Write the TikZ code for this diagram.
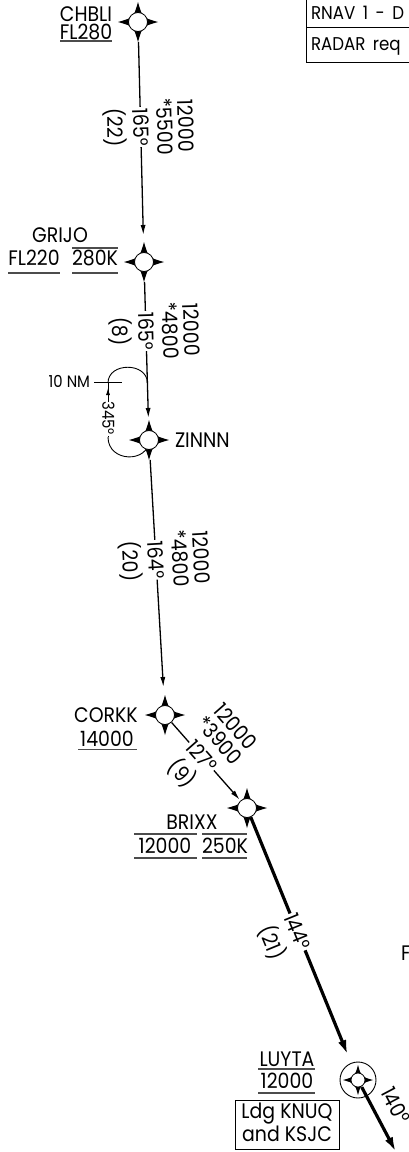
\documentclass[tikz,border=0pt]{standalone}
\usepackage{fontspec}
\setmainfont{Poppins}[FakeStretch=0.9]
\usetikzlibrary{arrows.meta}
\newcommand{\mywpstar}[3]{%
  \fill[shift={(#1.center)}] (0,-#2) .. controls ({0.22*#2},{-0.22*#2}) .. (#2,0)
    .. controls ({0.22*#2},{0.22*#2}) .. (0,#2)
    .. controls ({-0.22*#2},{0.22*#2}) .. (-#2,0)
    .. controls ({-0.22*#2},{-0.22*#2}) .. cycle;
  \draw[line width=0.8pt, fill=white] (#1.center) circle[radius=#3];}
\begin{document}
\begin{tikzpicture}[x=1pt,y=-1pt,
  every node/.style={inner sep=0pt, outer sep=0pt},
  lbl/.style={font=\fontsize{21}{24}\selectfont, text height=14.6pt, text depth=0pt},
  small/.style={font=\fontsize{16.5}{19}\selectfont, text height=11.5pt, text depth=0pt},
  tbl/.style={font=\fontsize{18.5}{21}\selectfont, text height=12.9pt, text depth=0pt},
  wpnode/.style={circle, minimum size=40pt},
  leg/.style={line width=1.3pt, -{Latex[length=10pt,width=5pt]}},
  bigleg/.style={line width=3.2pt, -{Latex[length=15pt,width=8.5pt]}},
  crs/.style={lbl, sloped, fill=white, inner xsep=1pt},
  legtxt/.style={lbl, sloped},
  altline/.style={line width=1.2pt, black!70},
  hold/.style={line width=0.9pt},
]
\useasboundingbox (0,0) rectangle (409,1152);
\clip (0,0) rectangle (409,1152);
\fill[white] (0,0) rectangle (409,1152);

% table (top right)
\draw[line width=1pt] (306,-5) rectangle (430,62);
\draw[line width=1pt] (306,27) -- (430,27);
\node[tbl, anchor=west] (t1) at (311,13) {\spaceskip=7.5pt\relax RNAV 1 - D};
\node[tbl, anchor=west] (t2) at (311,44.5) {\spaceskip=7.5pt\relax RADAR req};

% holding pattern at ZINNN
\coordinate (hT1) at (108,383); \coordinate (hT2) at (147.4,383);
\coordinate (hB1) at (108,437); \coordinate (hB2) at (149,440);
\draw[hold] (hT1) .. controls (108,362) and (147.4,362) .. (hT2);
\draw[hold] (hB1) .. controls (108,463) and (149,463) .. (hB2);
\draw[hold] (hB1) -- node[pos=.35, small, rotate=-90, fill=white, inner xsep=1pt] (h345) {345°} (hT1);
\coordinate (ha1) at (108,402); \coordinate (ha2) at (108,388);
\draw[hold, -{Latex[length=7pt,width=4pt]}] (ha1) -- (ha2);
\coordinate (tk1) at (94,382); \coordinate (tk2) at (122,382);
\draw[hold] (tk1) -- (tk2);
\node[small, anchor=east] (nm) at (90,382) {10 NM};

% waypoints
\node[wpnode] (CHBLI) at (138,22) {};
\node[wpnode] (GRIJO) at (144,262) {};
\node[wpnode] (ZINNN) at (149,440) {};
\node[wpnode] (CORKK) at (165,715) {};
\node[wpnode] (BRIXX) at (247,808) {};
\node[wpnode, minimum size=36pt] (LUYTA) at (358,1080) {};
\coordinate (exit) at (396,1152);
\mywpstar{CHBLI}{20}{9.5}
\mywpstar{GRIJO}{20}{9.5}
\mywpstar{ZINNN}{20}{9.5}
\mywpstar{CORKK}{20}{9.5}
\mywpstar{BRIXX}{20}{9.5}
\draw[line width=0.9pt] (LUYTA.center) circle[radius=18];
\mywpstar{LUYTA}{15}{7}

% legs
\draw[leg, shorten >=7pt] (CHBLI) --
  node[pos=.425, crs] (c1) {165°}
  node[pos=.425, legtxt, yshift=45pt] (a1) {12000}
  node[pos=.425, legtxt, yshift=24pt] (b1) {*5500}
  node[pos=.425, legtxt, yshift=-26pt] (d1) {(22)} (GRIJO);
\draw[leg, shorten >=2pt] (GRIJO) --
  node[pos=.355, crs] (c2) {165°}
  node[pos=.355, legtxt, yshift=45pt] (a2) {12000}
  node[pos=.355, legtxt, yshift=24pt] (b2) {*4800}
  node[pos=.355, legtxt, yshift=-26pt] (d2) {(8)} (ZINNN);
\draw[leg, shorten >=8pt] (ZINNN) --
  node[pos=.425, crs] (c3) {164°}
  node[pos=.425, legtxt, yshift=45pt] (a3) {12000}
  node[pos=.425, legtxt, yshift=24pt] (b3) {*4800}
  node[pos=.425, legtxt, yshift=-26pt] (d3) {(20)} (CORKK);
\draw[leg, shorten <=-10pt, shorten >=-9pt] (CORKK) --
  node[pos=.42, crs] (c4) {127°}
  node[pos=.42, legtxt, yshift=45pt] (a4) {12000}
  node[pos=.42, legtxt, yshift=24pt] (b4) {*3900}
  node[pos=.42, legtxt, yshift=-26pt] (d4) {(9)} (BRIXX);
\draw[bigleg, shorten <=-10pt, shorten >=9pt] (BRIXX) --
  node[pos=.445, crs] (c5) {144°}
  node[pos=.445, legtxt, yshift=-28pt] (d5) {(21)} (LUYTA);
\draw[bigleg, shorten <=-10pt] (LUYTA) --
  node[pos=.35, legtxt, yshift=21pt] (c6) {140°} (exit);

% waypoint labels
\node[lbl] (nCHBLI) at (86,14.5) {CHBLI};
\node[lbl] (rCHBLI) at (86,31.7) {FL280};
\draw[altline] (60,41) -- (112,41);

\node[lbl] (nGRIJO) at (60,235) {GRIJO};
\node[lbl] (aGRIJO) at (34,258.5) {FL220};
\node[lbl] (sGRIJO) at (95,258.5) {280K};
\draw[altline] (8,273) -- (60,273);
\draw[altline] (72,248) -- (118,248);
\draw[altline] (72,273) -- (118,273);

\node[lbl, anchor=west] (nZINNN) at (175,440) {ZINNN};

\node[lbl] (nCORKK) at (106,715) {CORKK};
\node[lbl] (aCORKK) at (107,739) {14000};
\draw[altline] (78,749.3) -- (137,749.3);

\node[lbl] (nBRIXX) at (192,822) {BRIXX};
\node[lbl] (aBRIXX) at (165,846) {12000};
\node[lbl] (sBRIXX) at (225,846) {250K};
\draw[altline] (134,834) -- (197,834);
\draw[altline] (202,834) -- (247,834);
\draw[altline] (134,858) -- (197,858);
\draw[altline] (202,858) -- (247,858);

\node[lbl, anchor=west] (F) at (401,953) {F};

\node[lbl] (nLUYTA) at (287,1059) {LUYTA};
\node[lbl] (aLUYTA) at (287,1081) {12000};
\draw[altline] (258,1069) -- (315,1069);
\draw[altline] (258,1093) -- (315,1093);
\draw[line width=1pt] (235,1100) rectangle (339,1149);
\node[lbl] (ldg1) at (287,1111) {Ldg KNUQ};
\node[lbl] (ldg2) at (287,1134.5) {and KSJC};
\end{tikzpicture}
\end{document}
